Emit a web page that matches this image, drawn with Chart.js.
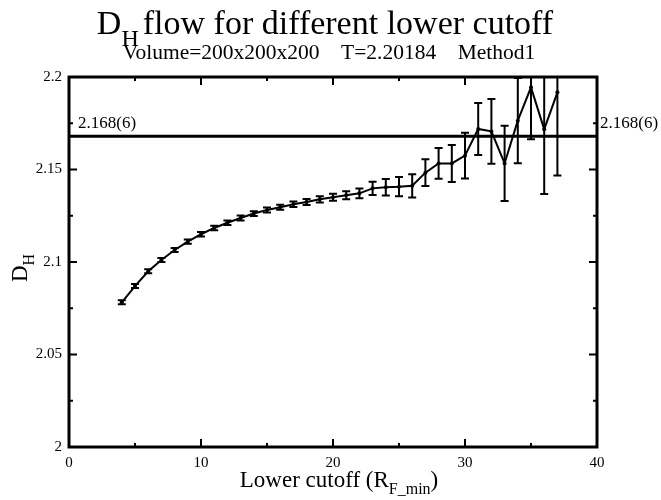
<!DOCTYPE html>
<html>
<head>
<meta charset="utf-8">
<script src="https://cdn.jsdelivr.net/npm/chart.js"></script>
<style>
  body { margin: 0; background: #fff; }
  #wrap { width: 661px; height: 500px; position: relative; }
</style>
</head>
<body>
<div id="wrap"><canvas id="c"></canvas></div>
<script>
// lower cutoff R_F_min and the fitted D_H with its error
const cutoff = [4, 5, 6, 7, 8, 9, 10, 11, 12, 13, 14, 15, 16, 17, 18, 19, 20,
  21, 22, 23, 24, 25, 26, 27, 28, 29, 30, 31, 32, 33, 34, 35, 36, 37];
const dhValue = [2.0782, 2.0870, 2.0950, 2.1011, 2.1065, 2.1110, 2.1150, 2.1184,
  2.1212, 2.1238, 2.1262, 2.1281, 2.1296, 2.1312, 2.1324, 2.1339, 2.1350,
  2.1361, 2.1371, 2.1398, 2.1404, 2.1407, 2.1412, 2.1483, 2.1533, 2.1533,
  2.1575, 2.1719, 2.1706, 2.1533, 2.1764, 2.1944, 2.1717, 2.1917];
const dhError = [0.0011, 0.0011, 0.0011, 0.0011, 0.0011, 0.0011, 0.0012, 0.0012,
  0.0012, 0.0013, 0.0013, 0.0014, 0.0014, 0.0015, 0.0016, 0.0017, 0.0019,
  0.0022, 0.0026, 0.0036, 0.0045, 0.0052, 0.0063, 0.0072, 0.0083, 0.0100,
  0.0123, 0.0140, 0.0175, 0.0203, 0.0230, 0.0280, 0.0350, 0.0450];

const refValue = 2.168;
const refLabel = '2.168(6)';

const xTickLabels = [0, 10, 20, 30, 40];
const yTickLabels = [2, 2.05, 2.1, 2.15, 2.2];

const SERIF = '"Liberation Serif", "DejaVu Serif", serif';

function isMajor(v, list) {
  return list.some((t) => Math.abs(t - v) < 1e-6);
}

// draw a run of text pieces (for the subscripts), centred on cx
function drawRun(ctx, parts, cx, y) {
  let total = 0;
  for (const p of parts) {
    ctx.font = p.size + 'px ' + SERIF;
    p.w = ctx.measureText(p.t).width + (p.gap || 0);
    total += p.w;
  }
  let x = cx - total / 2;
  for (const p of parts) {
    ctx.font = p.size + 'px ' + SERIF;
    ctx.fillText(p.t, x + (p.gap || 0), y + (p.dy || 0));
    x += p.w;
  }
}

const errorBars = {
  id: 'errorBars',
  afterDatasetsDraw(chart) {
    const { ctx, chartArea: a, scales: { x, y } } = chart;
    ctx.save();
    ctx.beginPath();
    ctx.rect(a.left, a.top, a.right - a.left, a.bottom - a.top);
    ctx.clip();
    ctx.strokeStyle = '#000';
    ctx.lineWidth = 2;
    cutoff.forEach((c, i) => {
      const px = x.getPixelForValue(c);
      const top = y.getPixelForValue(dhValue[i] + dhError[i]);
      const bot = y.getPixelForValue(dhValue[i] - dhError[i]);
      ctx.beginPath();
      ctx.moveTo(px, top); ctx.lineTo(px, bot);
      ctx.moveTo(px - 4, top); ctx.lineTo(px + 4, top);
      ctx.moveTo(px - 4, bot); ctx.lineTo(px + 4, bot);
      ctx.stroke();
    });
    ctx.restore();
  },
};

const frame = {
  id: 'frame',
  afterDraw(chart) {
    const { ctx, chartArea: a, scales: { x, y } } = chart;
    ctx.save();
    ctx.strokeStyle = '#000';
    ctx.fillStyle = '#000';

    // inward ticks on all four sides
    ctx.lineWidth = 2;
    ctx.beginPath();
    for (const t of x.ticks) {
      const px = x.getPixelForValue(t.value);
      const len = isMajor(t.value, xTickLabels) ? 8 : 4;
      ctx.moveTo(px, a.bottom); ctx.lineTo(px, a.bottom - len);
      ctx.moveTo(px, a.top); ctx.lineTo(px, a.top + len);
    }
    for (const t of y.ticks) {
      const py = y.getPixelForValue(t.value);
      const len = isMajor(t.value, yTickLabels) ? 8 : 4;
      ctx.moveTo(a.left, py); ctx.lineTo(a.left + len, py);
      ctx.moveTo(a.right, py); ctx.lineTo(a.right - len, py);
    }
    ctx.stroke();

    ctx.lineWidth = 3;
    ctx.strokeRect(a.left, a.top, a.right - a.left, a.bottom - a.top);

    // reference value labels
    const ry = y.getPixelForValue(refValue);
    ctx.font = '17px ' + SERIF;
    ctx.textBaseline = 'middle';
    ctx.textAlign = 'left';
    ctx.fillText(refLabel, a.left + 9, ry - 13);
    ctx.fillText(refLabel, a.right + 3, ry - 13);

    // titles
    ctx.textBaseline = 'alphabetic';
    drawRun(ctx, [
      { t: 'D', size: 34 },
      { t: 'H', size: 24, dy: 12 },
      { t: 'flow for different lower cutoff', size: 34, gap: 4 },
    ], 325, 34);
    drawRun(ctx, [{ t: 'Volume=200x200x200    T=2.20184    Method1', size: 21.5 }], 329, 59);
    drawRun(ctx, [
      { t: 'Lower cutoff (R', size: 23 },
      { t: 'F_min', size: 16, dy: 7 },
      { t: ')', size: 23 },
    ], 339, 487);

    ctx.save();
    ctx.translate(27, 268);
    ctx.rotate(-Math.PI / 2);
    drawRun(ctx, [
      { t: 'D', size: 23 },
      { t: 'H', size: 16, dy: 7 },
    ], 0, 0);
    ctx.restore();

    ctx.restore();
  },
};

const points = cutoff.map((c, i) => ({ x: c, y: dhValue[i] }));
const refLine = [{ x: 0, y: refValue }, { x: 40, y: refValue }];

new Chart(document.getElementById('c'), {
  type: 'line',
  data: {
    datasets: [
      {
        data: refLine,
        borderColor: '#000',
        borderWidth: 3,
        pointRadius: 0,
      },
      {
        data: points,
        borderColor: '#000',
        borderWidth: 2,
        pointRadius: 2,
        pointBackgroundColor: '#000',
        pointBorderWidth: 0,
        tension: 0,
      },
    ],
  },
  options: {
    responsive: true,
    maintainAspectRatio: false,
    animation: false,
    events: [],
    layout: { padding: { top: 77, right: 64, left: 0, bottom: 0 } },
    plugins: { legend: { display: false }, tooltip: { enabled: false }, title: { display: false } },
    scales: {
      x: {
        type: 'linear',
        min: 0,
        max: 40,
        grid: { display: false, drawTicks: false },
        border: { display: false },
        afterFit(s) { s.height = 53; },
        ticks: {
          stepSize: 5,
          autoSkip: false,
          maxRotation: 0,
          padding: 7,
          color: '#000',
          font: { family: SERIF, size: 15 },
          callback: (v) => (isMajor(v, xTickLabels) ? String(v) : ''),
        },
      },
      y: {
        type: 'linear',
        min: 2,
        max: 2.2,
        grid: { display: false, drawTicks: false },
        border: { display: false },
        afterFit(s) { s.width = 69; },
        ticks: {
          stepSize: 0.025,
          autoSkip: false,
          padding: 7,
          color: '#000',
          font: { family: SERIF, size: 15 },
          callback: (v) => (isMajor(v, yTickLabels) ? String(+v.toFixed(3)) : ''),
        },
      },
    },
  },
  plugins: [errorBars, frame],
});
</script>
</body>
</html>
